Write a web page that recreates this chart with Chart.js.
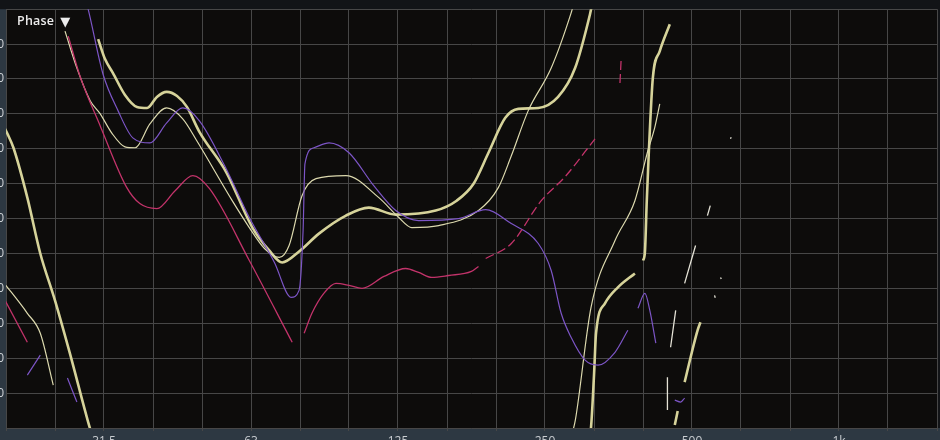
<!DOCTYPE html>
<html>
<head>
<meta charset="utf-8">
<script src="https://cdn.jsdelivr.net/npm/chart.js@4/dist/chart.umd.min.js"></script>
<style>
  html, body { margin: 0; padding: 0; width: 940px; height: 440px; overflow: hidden; background: #121417; }
  #wrap { position: relative; width: 940px; height: 440px; overflow: hidden; }
  #c { position: absolute; left: -50px; top: 0; }
  #title { position: absolute; left: 17px; top: 13px; color: #ececec; font: 600 12.5px "Open Sans", sans-serif; line-height: 1; letter-spacing: 0.2px; }
  #title span { font: 13px "DejaVu Sans", sans-serif; margin-left: 6px; position: relative; top: 1px; }
</style>
</head>
<body>
<div id="wrap">
  <canvas id="c" width="990" height="470"></canvas>
  <div id="title">Phase<span>▼</span></div>
</div>
<script>
// x labels (nominal 1/3-octave names) and where they sit
const xTickValues = [31.25, 62.5, 125, 250, 500, 1000];
const xTickLabels = ["31.5", "63", "125", "250", "500", "1k"];

// thick yellow trace (Hz / degrees, null = wrap or gap)
const thickFreq = [19.45, 19.82, 20.39, 21.77, 23.14, 24.8, 26.6, 29.0, 29.4, 29.4,
  30.4, 31.4, 32.6, 34.5, 36.5, 38.3, 40.1, 42.0, 44.1, 46.2, 49.0, 55.7, 62.9, 68.1, 72.4, 78.4, 86.1, 97.8, 108.9, 123.7, 149.3, 164.8, 178.5, 191.5, 207.3, 220.4, 242.2, 265.9, 288.1, 309.1, 311.3, 311.3,
  309.1, 310.5, 315, 318, 331.7, 352.5, 382, 382,
  397, 400.4, 404, 408, 415.7, 429.5, 450.3, 450.3,
  461, 467.4, 467.4,
  482.9, 513.3, 520.4];
const thickPhase = [79.7, 72.9, 60.9, 18, -30, -70.3, -115.7, -174.9, -183.4, null,
  154.3, 137.1, 125.1, 106.3, 96, 95.1, 104.6, 108.9, 105.4, 96, 74.6, 39.4, -7.7, -27.4, -37.7, -28.3, -12.9, 2.6, 9.4, 3.4, 6.9, 15.4, 30, 56.6, 86.6, 94.3, 95.1, 104.6, 129.4, 175.7, 181.7, null,
  -183.4, -180, -134.6, -98.6, -72.9, -59.1, -47.1, null,
  -36, -29.1, 15.4, 58.3, 120.9, 144, 167.1, null,
  -177.4, -165.4, null,
  -140.6, -96, -89.1];

// thin cream trace
const thinFreq = [19.6, 19.82, 21.77, 23.14, 24.6, 24.6,
  26.0, 27.5, 29.3, 30.7, 32.4, 34.5, 36.2, 38.8, 42.0, 45.3, 48.4, 57.2, 62.0, 66.6, 71.4, 74.8, 79.5, 84.9, 97.8, 114.2, 125.5, 133.4, 151.4, 182.7, 200.6, 213.3, 230.9, 257.4, 282.7, 285.4, 285.4,
  284.8, 288.5, 310.6, 347.8, 382, 406, 419.3, 429.5];
const thinPhase = [-56.6, -59.1, -81.4, -98.6, -143.1, null,
  161.1, 129.4, 101.1, 90, 73.7, 61.7, 60.9, 81.4, 95.1, 85.7, 66.9, 15.4, -7.7, -25.7, -33.4, -23.1, 19.7, 34.3, 36.9, 18, 0.9, -7.7, -6, 6.9, 26.6, 54, 92.6, 129.4, 176.6, 182.6, null,
  -183.4, -173.1, -76.3, -18.9, 15.4, 58.3, 78, 98.6];

// purple trace
const purpleFreq = [21.77, 23.14, 23.14, 26.3, 27.5, 27.5,
  28.7, 29.0, 31.1, 33.4, 35.8, 38.8, 42.0, 45.3, 49.0, 55.2, 62.0, 69.8, 75.5, 78.4, 79.9, 80.6, 84.1, 90.3, 99.2, 111.5, 123.7, 137.8, 166.3, 189, 213.3, 242.2, 257.4, 269.8, 282.7, 302, 321, 347.8, 369.5, 369.5,
  387.5, 400.4, 409.8, 421.6, 421.6,
  461, 474, 482.9];
const purplePhase = [-134.6, -117.4, null, -137.1, -157.7, null,
  186.9, 180, 124.3, 92.6, 69.4, 65.1, 82.3, 95.1, 84, 45.4, 0.9, -37.7, -67.7, -61.7, -10.3, 47.1, 60.9, 65.1, 56.6, 28.3, 6.9, -1.7, 0, 7.7, -4.3, -21.4, -44.6, -81.4, -102, -121.7, -126, -114.9, -96, null,
  -77.1, -64.3, -78.9, -107.1, null,
  -156, -157.7, -154.3];

// pink trace
const pinkFreq = [19.6, 21.77, 21.77,
  26.4, 27.9, 30.7, 34.8, 37.0, 40.1, 43.7, 47.5, 51.4, 62.0, 75.9, 75.9,
  80.3, 83.3, 88.1, 93.3, 99.2, 105.5, 117, 129.6, 137.8, 146.5, 158.7, 176.7, 182.7, 182.7,
  189, 213.3, 245.6, 274.8, 316.5, 316.5,
  356, 358];
const pinkPhase = [-70.3, -106.3, null,
  156.9, 122.6, 79.7, 26.6, 12.9, 8.6, 24, 36.9, 25.7, -36, -106.3, null,
  -98.6, -81.4, -64.3, -55.7, -57.4, -60, -49.7, -42.9, -46.3, -50.6, -48.9, -45.4, -41.1, null,
  -34.3, -21.4, 15.4, 36, 68.6, null,
  116.6, 137.1];

// scattered fragments above 400 Hz
const noiseFreq = [452, 463, 463, 445.3, 445.3, 445.3, 482.9, 508.5, 508.5, 537.7, 545, 545, 556, 558, 558, 572, 574, 574, 599.4, 601.5];
const noisePhase = [-110.6, -78.9, null, -164.6, -136.3, null, -55.7, -23.1, null, 2.6, 11.1, null, -66, -68, null, -50.6, -52, null, 68.6, 70];

const toPoints = (fs, ps) => fs.map((f, i) => ({ x: f, y: ps[i] }));

const gridFreqs = [];
for (let k = -17; k <= 2; k++) gridFreqs.push(1000 * Math.pow(2, k / 3));

const bgPlugin = {
  id: "bg",
  beforeDraw(chart) {
    const { ctx, chartArea: a, width, height } = chart;
    ctx.save();
    ctx.fillStyle = "#121417";
    ctx.fillRect(0, 0, width, height);
    ctx.fillStyle = "#2d3842";
    ctx.fillRect(0, a.top, a.left, height - a.top);
    ctx.fillRect(0, a.bottom, width, height - a.bottom);
    ctx.fillStyle = "#0d0c0b";
    ctx.fillRect(a.left, a.top, a.right - a.left, a.bottom - a.top);
    ctx.restore();
  }
};

const line = (fs, ps, color, width, extra) => Object.assign({
  data: toPoints(fs, ps),
  borderColor: color,
  borderWidth: width,
  pointRadius: 0,
  spanGaps: false,
  cubicInterpolationMode: "monotone",
  clip: 0
}, extra || {});

new Chart(document.getElementById("c").getContext("2d"), {
  type: "line",
  data: {
    datasets: [
      line(pinkFreq, pinkPhase, "#c2336a", 1.3, {
        segment: { borderDash: ctx => ctx.p0.parsed.x > 185 ? [9, 4] : undefined }
      }),
      line(purpleFreq, purplePhase, "#7c55c6", 1.2),
      line(thinFreq, thinPhase, "#dcd9ae", 1.2),
      line(thickFreq, thickPhase, "#d6d39a", 2.6),
      line(noiseFreq, noisePhase, "#e4e2d6", 1.3, { cubicInterpolationMode: "default", tension: 0 })
    ]
  },
  options: {
    responsive: false,
    animation: false,
    layout: { padding: { top: 8, left: 0, right: 0, bottom: 0 } },
    plugins: { legend: { display: false }, tooltip: { enabled: false } },
    scales: {
      x: {
        type: "logarithmic",
        min: gridFreqs[0],
        max: gridFreqs[gridFreqs.length - 1],
        afterBuildTicks: s => { s.ticks = gridFreqs.map(v => ({ value: v })); },
        afterFit: s => { s.height = 42; },
        border: { display: false },
        grid: { color: "#474747", lineWidth: 1, drawTicks: true, tickLength: 3 },
        ticks: {
          autoSkip: false, maxRotation: 0, padding: 3,
          color: "#c9cdd1", font: { family: "Open Sans", size: 12 },
          callback: v => {
            const i = xTickValues.findIndex(t => Math.abs(t - v) / t < 0.01);
            return i >= 0 ? xTickLabels[i] : "";
          }
        }
      },
      y: {
        type: "linear",
        min: -180,
        max: 180,
        afterFit: s => { s.width = 56; },
        border: { display: false },
        grid: { color: "#474747", lineWidth: 1, drawTicks: false },
        ticks: {
          stepSize: 30, padding: 2,
          color: "#cfd3d7", font: { family: "Open Sans", size: 12 },
          callback: v => (v === 180 || v === -180) ? "" : String(v)
        }
      }
    }
  },
  plugins: [bgPlugin]
});
</script>
</body>
</html>
